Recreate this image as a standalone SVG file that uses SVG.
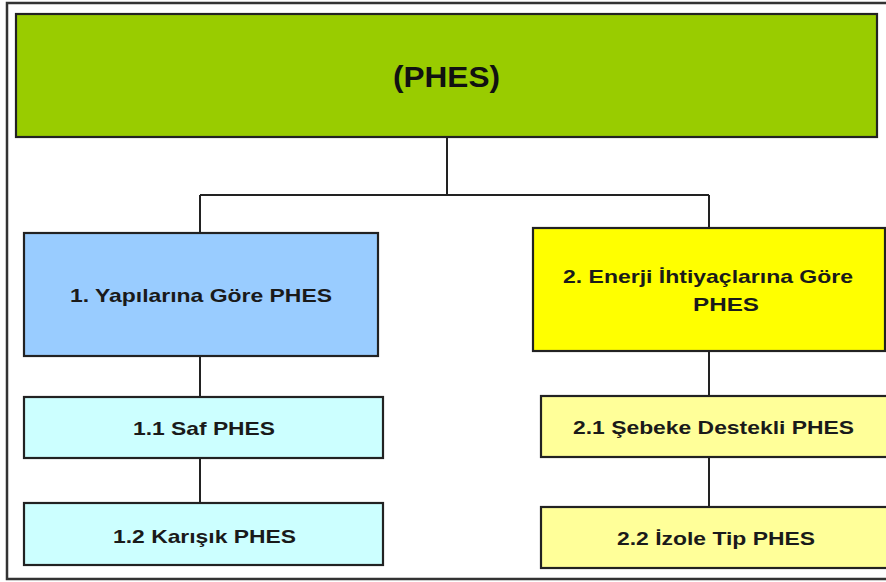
<svg xmlns="http://www.w3.org/2000/svg" width="886" height="582" viewBox="0 0 886 582">
  <style>
    .box { stroke: #222; stroke-width: 2.2; }
    .lbl { font-family: "Liberation Sans", Arial, sans-serif; font-weight: bold; font-size: 18.5px; fill: #1a1a1a; text-anchor: middle; }
    .title { font-family: "Liberation Sans", Arial, sans-serif; font-weight: bold; font-size: 30px; fill: #111; text-anchor: middle; }
    .conn { fill: none; stroke: #222; stroke-width: 2; }
  </style>
  <rect x="0" y="0" width="886" height="582" fill="#ffffff"/>
  <path d="M890 3 H7 V579 H890" fill="none" stroke="#333" stroke-width="2.5"/>

  <g id="connectors">
    <path class="conn" d="M447 137 V195 M200 195 H709 M200 195 V233 M709 195 V228"/>
    <path class="conn" d="M200 356 V397 M200 458 V503"/>
    <path class="conn" d="M709 351 V396 M709 457 V507"/>
  </g>

  <g id="root">
    <rect class="box" x="16" y="14" width="861" height="123" fill="#99CC00"/>
    <text class="title" x="446.5" y="87" textLength="107" lengthAdjust="spacingAndGlyphs">(PHES)</text>
  </g>

  <g id="n1">
    <rect class="box" x="24" y="233" width="354" height="123" fill="#99CCFF"/>
    <text class="lbl" x="201" y="302" textLength="262" lengthAdjust="spacingAndGlyphs">1. Yapılarına Göre PHES</text>
  </g>

  <g id="n2">
    <rect class="box" x="533" y="228" width="352" height="123" fill="#FFFF00"/>
    <text class="lbl" x="708" y="283" textLength="290" lengthAdjust="spacingAndGlyphs">2. Enerji İhtiyaçlarına Göre</text>
    <text class="lbl" x="726" y="311" textLength="66" lengthAdjust="spacingAndGlyphs">PHES</text>
  </g>

  <g id="n11">
    <rect class="box" x="24" y="397" width="359" height="61" fill="#CCFFFF"/>
    <text class="lbl" x="204" y="435" textLength="142" lengthAdjust="spacingAndGlyphs">1.1 Saf PHES</text>
  </g>

  <g id="n12">
    <rect class="box" x="24" y="503" width="359" height="62" fill="#CCFFFF"/>
    <text class="lbl" x="204.5" y="543" textLength="183" lengthAdjust="spacingAndGlyphs">1.2 Karışık PHES</text>
  </g>

  <g id="n21">
    <rect class="box" x="541" y="396" width="348" height="61" fill="#FFFF99"/>
    <text class="lbl" x="713.5" y="434" textLength="281" lengthAdjust="spacingAndGlyphs">2.1 Şebeke Destekli PHES</text>
  </g>

  <g id="n22">
    <rect class="box" x="541" y="507" width="348" height="61" fill="#FFFF99"/>
    <text class="lbl" x="716" y="545" textLength="198" lengthAdjust="spacingAndGlyphs">2.2 İzole Tip PHES</text>
  </g>
</svg>
